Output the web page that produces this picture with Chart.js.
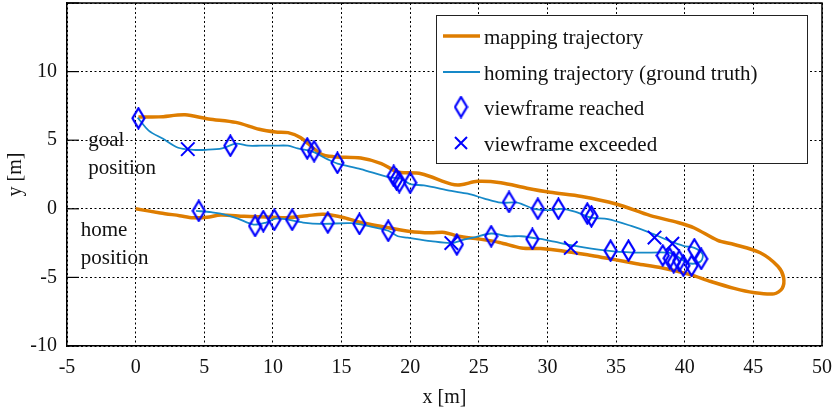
<!DOCTYPE html>
<html lang="en">
<head>
  <meta charset="UTF-8">
  <title>Mapping vs homing trajectory</title>
  <script src="https://cdn.jsdelivr.net/npm/chart.js"></script>
  <style>
    body { margin: 0; background: #fff; }
  </style>
</head>
<body>
<canvas id="myChart" width="835" height="414"></canvas>

<script>
  // mapping run: from home along the lower branch, round the far end, back to goal
  const mapX = [0, 1.8, 3.2, 4.2, 5.2, 6.2, 7.9, 9.5, 11.0, 12.5, 13.7, 15.2, 16.4, 18.0, 20.0, 21.5, 22.5, 23.5, 25.0, 26.5,
    28.1, 29.5, 31.0, 33.2, 34.6, 36.5, 38.3, 40.4, 41.9, 43.6, 45.0, 46.5, 47.1, 47.2, 46.8, 45.5, 43.6, 42.4, 40.7, 39.5,
    37.5, 35.0, 32.5, 30.2, 28.5, 26.6, 24.9, 23.7, 23.0, 20.8, 19.3, 18.8, 17.9, 16.4, 14.4, 13.5, 12.0, 11.1, 10.2, 9.0,
    7.3, 5.3, 3.6, 1.7, 0.2];
  const mapY = [0, -0.3, -0.5, -0.65, -0.62, -0.45, -0.55, -0.6, -0.65, -0.5, -0.4, -0.65, -1.0, -1.3, -1.65, -1.75, -1.72, -2.0, -2.2, -2.45,
    -2.85, -2.9, -3.05, -3.4, -3.65, -4.0, -4.3, -4.8, -5.3, -5.8, -6.1, -6.2, -5.8, -5.0, -4.2, -3.2, -2.6, -2.3, -1.4, -1.0,
    -0.5, 0.35, 0.9, 1.2, 1.5, 1.9, 2.0, 1.75, 1.8, 2.55, 2.65, 2.8, 3.3, 3.7, 3.8, 4.0, 5.2, 5.55, 5.6, 5.8,
    6.3, 6.55, 6.85, 6.7, 6.7];

  // homing run (ground truth): goal -> far end -> home
  const homeX = [0.15, 0.95, 2.0, 3.1, 4.2, 5.1, 6.3, 7.3, 8.2, 9.1, 10.1, 11.1, 11.8, 12.8, 14.0, 14.7, 16.4, 18.4, 19.3, 20.0,
    21.0, 23.0, 24.2, 25.4, 26.6, 27.8, 29.0, 30.2, 31.0, 32.0, 33.2, 34.4, 36.1, 37.5, 38.8, 39.9, 40.7, 41.3, 41.2, 40.7,
    40.1, 39.5, 38.8, 36.8, 34.8, 33.2, 32.0, 30.5, 29.5, 28.1, 27.1, 25.9, 24.6, 23.9, 23.0, 21.5, 19.8, 19.1, 18.4, 16.9,
    15.7, 13.5, 12.2, 10.3, 9.5, 8.6, 7.4, 6.2, 5.5, 4.4];
  const homeY = [6.65, 5.7, 5.1, 4.45, 4.3, 4.3, 4.4, 4.75, 4.6, 4.6, 4.6, 4.6, 4.4, 4.2, 3.6, 3.3, 2.9, 2.3, 2.2, 1.8,
    1.7, 1.3, 1.1, 0.75, 0.45, 0.45, 0.0, -0.1, 0.0, -0.2, -0.65, -0.75, -1.25, -1.75, -2.3, -2.7, -2.85, -3.3, -3.8, -4.0,
    -3.9, -3.5, -3.2, -3.2, -3.1, -2.9, -2.7, -2.4, -2.2, -2.0, -2.0, -1.8, -2.1, -2.25, -2.5, -2.35, -2.1, -2.0, -1.6, -1.25,
    -1.05, -1.1, -1.0, -0.7, -1.0, -1.15, -0.7, -0.35, -0.25, -0.15];

  const reachedX = [0.2, 6.9, 12.5, 13.0, 14.7, 18.8, 19.0, 19.2, 20.0, 27.2, 29.3, 30.8, 32.9, 33.2,
    4.6, 8.7, 9.3, 10.1, 11.4, 14.0, 16.3, 18.4, 23.4, 25.9, 28.9, 34.6, 35.9, 38.4, 38.9, 39.2, 39.6, 39.9, 40.5, 40.7, 41.2];
  const reachedY = [6.6, 4.6, 4.4, 4.2, 3.35, 2.4, 2.15, 1.95, 1.9, 0.5, 0.0, 0.0, -0.35, -0.55,
    -0.15, -1.25, -0.9, -0.8, -0.8, -1.0, -1.1, -1.6, -2.6, -2.0, -2.2, -3.05, -3.05, -3.4, -3.6, -3.9, -3.8, -4.15, -4.15, -2.95, -3.65];

  const exceededX = [3.8, 23.0, 31.7, 37.8, 39.1];
  const exceededY = [4.35, -2.5, -2.85, -2.1, -2.55];

  const xTicks = [-5, 0, 5, 10, 15, 20, 25, 30, 35, 40, 45, 50];
  const yTicks = [-10, -5, 0, 5, 10, 15];

  const notes = [
    { lines: ['goal', 'position'], x: -3.45, y: [5.0, 2.95] },
    { lines: ['home', 'position'], x: -4.0, y: [-1.6, -3.65] }
  ];

  const FONT = '"Liberation Serif", "Times New Roman", serif';
  const ORANGE = 'rgb(222,125,0)';
  const CYAN = 'rgb(22,137,200)';
  const BLUE = 'rgb(0,0,255)';

  const zip = (xs, ys) => xs.map((x, i) => ({ x: x, y: ys[i] }));

  // tall thin diamond marker
  function diamond(w, h) {
    const c = document.createElement('canvas');
    c.width = w; c.height = h;
    const g = c.getContext('2d');
    g.strokeStyle = BLUE;
    g.lineWidth = 2.2;
    g.beginPath();
    g.moveTo(w / 2, 1.5);
    g.lineTo(w - 1.5, h / 2);
    g.lineTo(w / 2, h - 1.5);
    g.lineTo(1.5, h / 2);
    g.closePath();
    g.stroke();
    return c;
  }
  const diamondImg = diamond(15, 23);

  // frame, inward ticks, side notes and the boxed legend
  const decor = {
    id: 'decor',
    afterDatasetsDraw(chart) {
      const { ctx, chartArea: a, scales } = chart;
      ctx.save();
      ctx.strokeStyle = '#000';
      ctx.lineWidth = 1.5;
      ctx.beginPath();
      ctx.moveTo(a.left, a.top); ctx.lineTo(a.right, a.top); ctx.lineTo(a.right, a.bottom);
      ctx.stroke();
      ctx.lineWidth = 1.2;
      yTicks.forEach(v => {
        const py = scales.y.getPixelForValue(v);
        ctx.beginPath(); ctx.moveTo(a.left, py); ctx.lineTo(a.left + 12, py); ctx.stroke();
      });

      ctx.fillStyle = '#111';
      ctx.font = '21px ' + FONT;
      ctx.textBaseline = 'middle';
      ctx.textAlign = 'left';
      notes.forEach(n => {
        const px = scales.x.getPixelForValue(n.x);
        n.lines.forEach((t, i) => ctx.fillText(t, px, scales.y.getPixelForValue(n.y[i])));
      });

      // legend
      const box = { l: 436, t: 15, r: 807, b: 163 };
      ctx.fillStyle = '#fff';
      ctx.fillRect(box.l, box.t, box.r - box.l, box.b - box.t);
      ctx.strokeStyle = '#222';
      ctx.lineWidth = 1;
      ctx.strokeRect(box.l + 0.5, box.t + 0.5, box.r - box.l, box.b - box.t);
      const rows = [36, 72, 107, 143];
      chart.data.datasets.forEach((ds, i) => {
        const cy = rows[i];
        if (ds.showLine) {
          ctx.strokeStyle = ds.borderColor;
          ctx.lineWidth = ds.borderWidth;
          ctx.beginPath(); ctx.moveTo(443, cy); ctx.lineTo(480, cy); ctx.stroke();
        } else if (ds.pointStyle === 'crossRot') {
          ctx.strokeStyle = BLUE; ctx.lineWidth = 2;
          ctx.beginPath();
          ctx.moveTo(455, cy - 6); ctx.lineTo(467, cy + 6);
          ctx.moveTo(467, cy - 6); ctx.lineTo(455, cy + 6);
          ctx.stroke();
        } else {
          ctx.drawImage(diamondImg, 461 - 7.5, cy - 11.5);
        }
        ctx.fillStyle = '#111';
        ctx.fillText(ds.label, 484, cy + 2);
      });
      ctx.restore();
    }
  };

  const noPad = s => { s.paddingTop = 0; s.paddingBottom = 0; s.paddingLeft = 0; s.paddingRight = 0; };

  const ctx = document.getElementById('myChart').getContext('2d');

  new Chart(ctx, {
    type: 'scatter',
    data: {
      datasets: [
        {
          label: 'mapping trajectory',
          data: zip(mapX, mapY),
          showLine: true,
          borderColor: ORANGE,
          borderWidth: 3.5,
          pointRadius: 0,
          tension: 0.3,
          order: 4
        },
        {
          label: 'homing trajectory (ground truth)',
          data: zip(homeX, homeY),
          showLine: true,
          borderColor: CYAN,
          borderWidth: 1.8,
          pointRadius: 0,
          tension: 0.3,
          order: 3
        },
        {
          label: 'viewframe reached',
          data: zip(reachedX, reachedY),
          pointStyle: diamondImg,
          pointRadius: 8,
          order: 2
        },
        {
          label: 'viewframe exceeded',
          data: zip(exceededX, exceededY),
          pointStyle: 'crossRot',
          pointRadius: 9.5,
          borderColor: BLUE,
          borderWidth: 2,
          order: 1
        }
      ]
    },
    options: {
      responsive: false,
      animation: false,
      layout: { autoPadding: false, padding: { top: 3, right: 13, left: 0, bottom: 0 } },
      plugins: {
        legend: { display: false },
        tooltip: { enabled: false }
      },
      scales: {
        x: {
          type: 'linear',
          min: -5,
          max: 50,
          afterBuildTicks: s => { s.ticks = xTicks.map(v => ({ value: v })); },
          afterFit: s => { s.height = 68; noPad(s); },
          grid: { color: '#000', lineWidth: 1, drawTicks: false },
          border: { display: true, color: '#000', width: 1.5, dash: [2, 2.5] },
          ticks: { color: '#111', padding: 10, font: { family: FONT, size: 20 } },
          title: { display: true, text: 'x [m]', color: '#111', padding: { top: 2 }, font: { family: FONT, size: 20 } }
        },
        y: {
          type: 'linear',
          min: -10,
          max: 15,
          afterBuildTicks: s => { s.ticks = yTicks.map(v => ({ value: v })); },
          afterFit: s => { s.width = 67; noPad(s); },
          grid: { color: '#000', lineWidth: 1, drawTicks: false },
          border: { display: true, color: '#000', width: 1.5, dash: [2, 2.5] },
          ticks: {
            color: '#111',
            padding: 10,
            font: { family: FONT, size: 20 },
            callback: v => (v === 15 ? '' : v)
          },
          title: { display: true, text: 'y [m]', color: '#111', padding: { bottom: 6 }, font: { family: FONT, size: 20 } }
        }
      }
    },
    plugins: [decor]
  });
</script>
</body>
</html>
